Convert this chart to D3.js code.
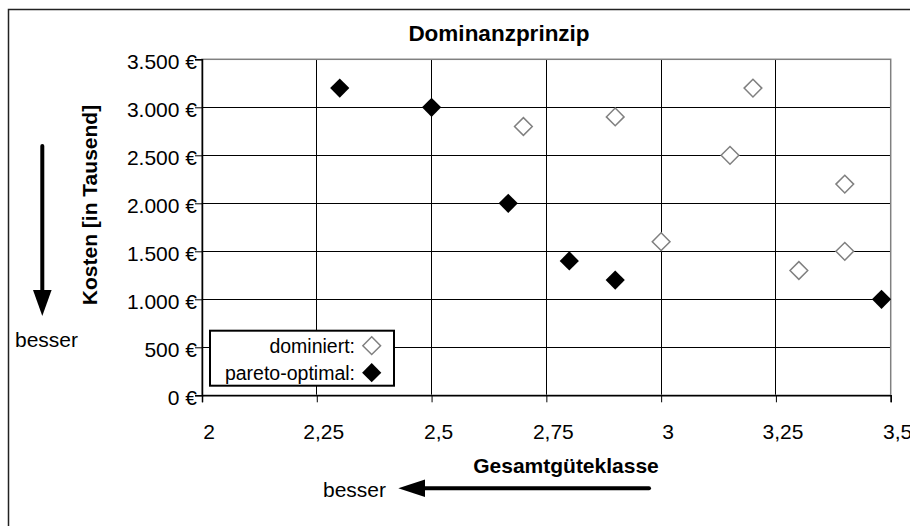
<!DOCTYPE html>
<html>
<head>
<meta charset="utf-8">
<script src="https://cdn.jsdelivr.net/npm/d3@7"></script>
<style>
  body { margin: 0; background: #fff; }
  #chart { width: 910px; height: 526px; }
  text { font-family: 'Liberation Sans', Arial, sans-serif; fill: #000; }
  .grid line { stroke: #000; stroke-width: 1; shape-rendering: crispEdges; }
  .tick-label { font-size: 21px; }
  .axis-title { font-size: 21px; font-weight: bold; }
  .legend text { font-size: 19.5px; }
</style>
</head>
<body>
<div id="chart"></div>
<script>
// values
var xTicks = [2, 2.25, 2.5, 2.75, 3, 3.25, 3.5];
var yTicks = [0, 500, 1000, 1500, 2000, 2500, 3000, 3500];

var seriesNames = ['dominiert:', 'pareto-optimal:'];

var dominatedX = [2.7, 2.9, 3.2, 3.15, 3.4, 3.0, 3.4, 3.3];
var dominatedY = [2800, 2900, 3200, 2500, 2200, 1600, 1500, 1300];

var paretoX = [2.3, 2.5, 2.667, 2.8, 2.9, 3.48];
var paretoY = [3200, 3000, 2000, 1400, 1200, 1000];

var ScatterGraph = function( _id ) {

  var that = this;

  that.id = _id;
  that.widthCont = 910;
  that.heightCont = 526;
  that.plot = {left: 202, right: 890.7, top: 59.3, bottom: 395.3};

  that.init = function() {

    var de = d3.formatLocale({decimal: ',', thousands: '.', grouping: [3], currency: ['', ' €']});
    var fmtY = function(d) { return de.format(',')(d) + ' €'; };
    var fmtX = de.format(',');

    that.x = d3.scaleLinear()
      .domain([d3.min(xTicks), d3.max(xTicks)])
      .range([that.plot.left, that.plot.right]);

    that.y = d3.scaleLinear()
      .domain([d3.min(yTicks), d3.max(yTicks)])
      .range([that.plot.bottom, that.plot.top]);

    that.svg = d3.select('#'+that.id).append('svg')
      .attr('width', that.widthCont)
      .attr('height', that.heightCont);

    // outer chart frame (runs off right/bottom edge)
    that.svg.append('rect')
      .attr('x', 8.5).attr('y', 9.5)
      .attr('width', 1000).attr('height', 600)
      .attr('fill', '#fff')
      .attr('stroke', '#222')
      .attr('stroke-width', 1.5);

    // gridlines
    var grid = that.svg.append('g').attr('class', 'grid');
    grid.selectAll('.hgrid')
      .data(yTicks.slice(1, -1))
    .enter().append('line')
      .attr('x1', that.plot.left).attr('x2', that.plot.right)
      .attr('y1', function(d) { return that.y(d); })
      .attr('y2', function(d) { return that.y(d); });
    grid.selectAll('.vgrid')
      .data(xTicks.slice(1, -1))
    .enter().append('line')
      .attr('y1', that.plot.top).attr('y2', that.plot.bottom)
      .attr('x1', function(d) { return that.x(d); })
      .attr('x2', function(d) { return that.x(d); });

    // plot border
    that.svg.append('rect')
      .attr('x', that.plot.left).attr('y', that.plot.top)
      .attr('width', that.plot.right - that.plot.left)
      .attr('height', that.plot.bottom - that.plot.top)
      .attr('fill', 'none')
      .attr('stroke', '#808080')
      .attr('stroke-width', 1.5);

    // axes
    var xAxis = d3.axisBottom(that.x).tickValues(xTicks).tickSize(7).tickFormat(fmtX);
    var gx = that.svg.append('g')
      .attr('transform', 'translate(0,' + that.plot.bottom + ')')
      .call(xAxis);
    gx.select('.domain').attr('stroke', '#000').attr('stroke-width', 1.5);
    gx.selectAll('.tick line').attr('stroke', '#000');
    gx.selectAll('.tick text')
      .attr('class', 'tick-label')
      .attr('font-family', null).attr('font-size', null)
      .attr('y', 43.5).attr('dy', null)
      .attr('dx', 6.5);

    var yAxis = d3.axisLeft(that.y).tickValues(yTicks).tickSize(7).tickFormat(fmtY);
    var gy = that.svg.append('g')
      .attr('transform', 'translate(' + that.plot.left + ',0)')
      .call(yAxis);
    gy.select('.domain').attr('stroke', '#000').attr('stroke-width', 1.5);
    gy.selectAll('.tick line').attr('stroke', '#000');
    gy.selectAll('.tick text')
      .attr('class', 'tick-label')
      .attr('font-family', null).attr('font-size', null)
      .attr('x', -5).attr('dy', '0.45em');

    // title + axis titles
    that.svg.append('text')
      .attr('x', 499).attr('y', 41)
      .attr('text-anchor', 'middle')
      .style('font-size', '22.5px').style('font-weight', 'bold')
      .text('Dominanzprinzip');

    that.svg.append('text')
      .attr('class', 'axis-title')
      .attr('x', 566).attr('y', 473)
      .attr('text-anchor', 'middle')
      .text('Gesamtgüteklasse');

    that.svg.append('text')
      .attr('class', 'axis-title')
      .attr('transform', 'translate(97,205) rotate(-90)')
      .attr('text-anchor', 'middle')
      .text('Kosten [in Tausend]');

    // "besser" arrows
    that.svg.append('line')
      .attr('x1', 42.3).attr('y1', 146).attr('x2', 42.3).attr('y2', 292)
      .attr('stroke', '#000').attr('stroke-width', 4).attr('stroke-linecap', 'round');
    that.svg.append('path')
      .attr('d', 'M33,290 L51.6,290 L42.3,316 Z')
      .attr('fill', '#000');
    that.svg.append('text')
      .attr('class', 'tick-label')
      .attr('x', 15).attr('y', 347)
      .text('besser');

    that.svg.append('line')
      .attr('x1', 649).attr('y1', 488.3).attr('x2', 423).attr('y2', 488.3)
      .attr('stroke', '#000').attr('stroke-width', 4).attr('stroke-linecap', 'round');
    that.svg.append('path')
      .attr('d', 'M425,479.5 L425,497 L398.3,488.3 Z')
      .attr('fill', '#000');
    that.svg.append('text')
      .attr('class', 'tick-label')
      .attr('x', 323).attr('y', 497)
      .text('besser');

    // markers
    var diamond = d3.symbol().type(d3.symbolDiamond2).size(200);
    var filledDiamond = d3.symbol().type(d3.symbolDiamond2).size(235);

    that.svg.selectAll('.dominated')
      .data(d3.zip(dominatedX, dominatedY))
    .enter().append('path')
      .attr('class', 'dominated')
      .attr('d', diamond)
      .attr('transform', function(d) { return 'translate(' + that.x(d[0]) + ',' + that.y(d[1]) + ')'; })
      .attr('fill', '#fff')
      .attr('stroke', '#808080')
      .attr('stroke-width', 1.5);

    that.svg.selectAll('.pareto')
      .data(d3.zip(paretoX, paretoY))
    .enter().append('path')
      .attr('class', 'pareto')
      .attr('d', filledDiamond)
      .attr('transform', function(d) { return 'translate(' + that.x(d[0]) + ',' + that.y(d[1]) + ')'; })
      .attr('fill', '#000');

    // legend
    var legend = that.svg.append('g').attr('class', 'legend');
    legend.append('rect')
      .attr('x', 210).attr('y', 330.7)
      .attr('width', 184).attr('height', 55)
      .attr('fill', '#fff')
      .attr('stroke', '#000')
      .attr('stroke-width', 2);

    var rows = legend.selectAll('.row')
      .data(seriesNames)
    .enter().append('g')
      .attr('transform', function(d, i) { return 'translate(0,' + (345.7 + i * 27) + ')'; });
    rows.append('text')
      .attr('x', 355).attr('dy', '0.36em')
      .attr('text-anchor', 'end')
      .text(function(d) { return d; });
    rows.append('path')
      .attr('transform', 'translate(371.7,0)')
      .attr('d', function(d, i) { return i ? filledDiamond() : diamond(); })
      .attr('fill', function(d, i) { return i ? '#000' : '#fff'; })
      .attr('stroke', function(d, i) { return i ? 'none' : '#808080'; })
      .attr('stroke-width', 1.5);

    return that;
  };

  return that;
};

new ScatterGraph('chart').init();
</script>
</body>
</html>
